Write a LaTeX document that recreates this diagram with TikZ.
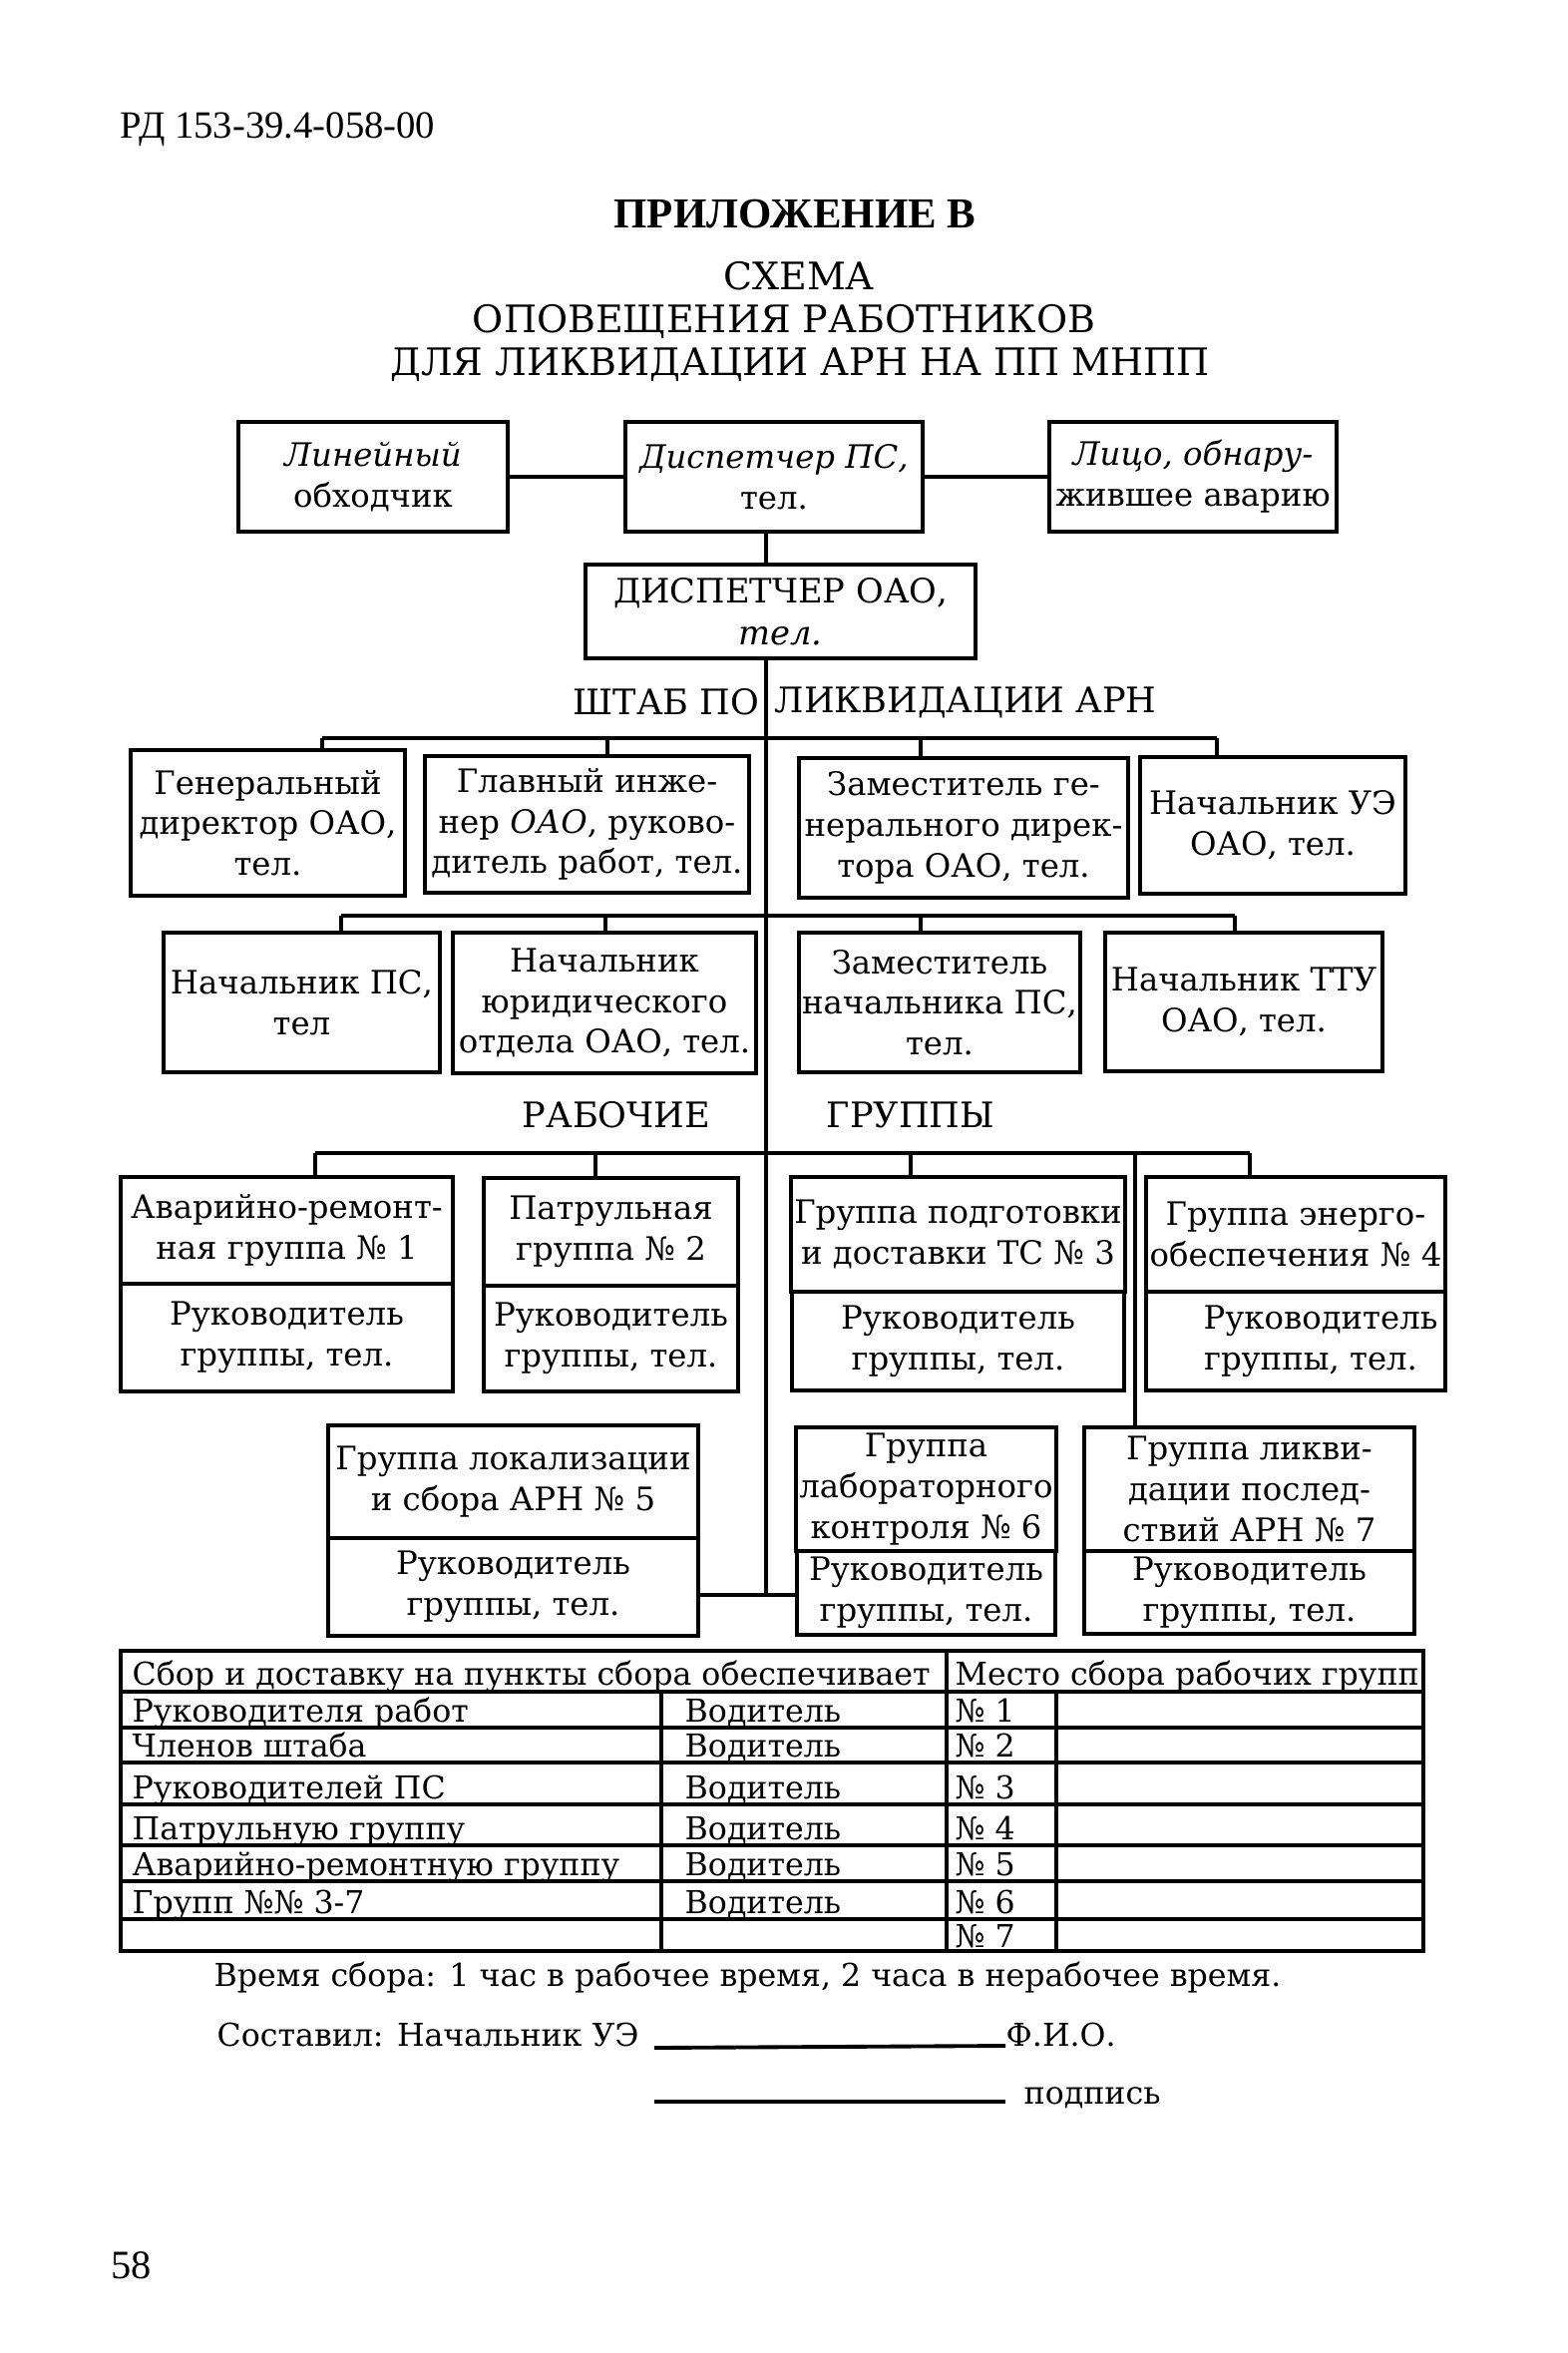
\documentclass[tikz,border=0pt]{standalone}
\usepackage{fontspec}
\setmainfont{DejaVu Serif}
\newfontfamily\hdfont{Liberation Serif}
\newcommand\boxfont{\fontsize{9.2}{11.6}\selectfont}
\tikzset{
  box/.style={draw, line width=1.1pt, align=center, inner sep=1pt, font=\boxfont},
  conn/.style={line width=1pt},
  tabl/.style={line width=1pt},
  cell/.style={anchor=base west, inner sep=0pt, font=\fontsize{9}{11}\selectfont},
  capt/.style={inner sep=0pt, font=\fontsize{10}{12}\selectfont},
  ttl/.style={inner sep=0pt, font=\fontsize{10.8}{13}\selectfont},
}
\begin{document}
\begin{tikzpicture}[x=0.1mm, y=-0.1mm]
\useasboundingbox (0,0) rectangle (1571,2359);
% heading
\node[anchor=west, inner sep=0pt, font=\hdfont\fontsize{11}{12}\selectfont] (code) at (120,130) {РД 153-39.4-058-00};
\node[inner sep=0pt, font=\hdfont\bfseries\fontsize{12.2}{14}\selectfont] (app) at (797,215) {ПРИЛОЖЕНИЕ В};
\node[ttl] (ttl1) at (801,277) {СХЕМА};
\node[ttl] (ttl2) at (786,322) {ОПОВЕЩЕНИЯ РАБОТНИКОВ};
\node[ttl] (ttl3) at (802,366) {ДЛЯ ЛИКВИДАЦИИ АРН НА ПП МНПП};
% first row
\node[box, minimum width=27mm, minimum height=11mm] (lin) at (374,478) {\textit{Линейный}\\обходчик};
\node[box, minimum width=29.8mm, minimum height=11mm] (dps) at (776,478) {\textit{Диспетчер ПС,}\\тел.};
\node[box, minimum width=28.8mm, minimum height=11mm] (lico) at (1196,478) {\textit{Лицо, обнару-}\\жившее аварию};
\node[box, minimum width=39.1mm, minimum height=9.4mm, font=\fontsize{9.6}{12}\selectfont] (oao) at (782.5,613) {ДИСПЕТЧЕР ОАО,\\\textit{тел.}};
\coordinate (spine) at (768,0);
\coordinate (jn) at (768,1599);
\draw[conn] (lin) -- (dps);
\draw[conn] (dps) -- (lico);
\draw[conn] (dps.south -| spine) -- (oao.north -| spine);
\draw[conn] (oao.south -| spine) -- (jn);
% staff
\node[capt, anchor=east] (shtab) at (762,704) {ШТАБ ПО};
\node[capt, anchor=west] (likv) at (776,704) {ЛИКВИДАЦИИ АРН};
\node[box, minimum width=27.5mm, minimum height=14.6mm] (gen) at (268.5,825) {Генеральный\\директор ОАО,\\тел.};
\node[box, minimum width=32.5mm, minimum height=13.7mm] (glav) at (588.5,826.5) {Главный инже-\\нер \textit{ОАО}, руково-\\дитель работ, тел.};
\node[box, minimum width=33mm, minimum height=14mm] (zgd) at (966,830) {Заместитель ге-\\нерального дирек-\\тора ОАО, тел.};
\node[box, minimum width=26.6mm, minimum height=13.7mm] (nue) at (1276,827.5) {Начальник УЭ\\ОАО, тел.};
\coordinate (b1a) at (323,740);
\coordinate (b1b) at (609,740);
\coordinate (b1c) at (923,740);
\coordinate (b1d) at (1220,740);
\draw[conn] (b1a) -- (b1d);
\foreach \n/\c in {gen/b1a, glav/b1b, zgd/b1c, nue/b1d}
  \draw[conn] (\c) -- (\n.north -| \c);
\node[box, minimum width=27.7mm, minimum height=14mm] (nps) at (302.5,1005) {Начальник ПС,\\тел};
\node[box, minimum width=30.4mm, minimum height=14.1mm] (yur) at (606,1005.5) {Начальник\\юридического\\отдела ОАО, тел.};
\node[box, minimum width=28mm, minimum height=14mm] (znps) at (942,1005) {Заместитель\\начальника ПС,\\тел.};
\node[box, minimum width=27.8mm, minimum height=13.9mm] (ttu) at (1247,1004.5) {Начальник ТТУ\\ОАО, тел.};
\coordinate (b2a) at (342,918);
\coordinate (b2b) at (607,918);
\coordinate (b2c) at (923,918);
\coordinate (b2d) at (1238,918);
\draw[conn] (b2a) -- (b2d);
\foreach \n/\c in {nps/b2a, yur/b2b, znps/b2c, ttu/b2d}
  \draw[conn] (\c) -- (\n.north -| \c);
% working groups
\node[capt] (rab) at (618,1118) {РАБОЧИЕ};
\node[capt] (grp) at (913,1118) {ГРУППЫ};
\node[box, minimum width=33.3mm, minimum height=10.7mm] (g1) at (287.5,1233.5) {Аварийно-ремонт-\\ная группа № 1};
\node[box, minimum width=33.3mm, minimum height=10.8mm] (g1r) at (287.5,1341) {Руководитель\\группы, тел.};
\node[box, minimum width=25.5mm, minimum height=10.8mm] (g2) at (612.5,1235) {Патрульная\\группа № 2};
\node[box, minimum width=25.5mm, minimum height=10.6mm] (g2r) at (612.5,1342) {Руководитель\\группы, тел.};
\node[box, minimum width=33.3mm, minimum height=11.5mm] (g3) at (960.5,1237.5) {Группа подготовки\\и доставки ТС № 3};
\node[box, minimum width=33.3mm, minimum height=9.9mm] (g3r) at (960.5,1344.5) {Руководитель\\группы, тел.};
\node[box, minimum width=30mm, minimum height=11.5mm] (g4) at (1299,1237.5) {Группа энерго-\\обеспечения № 4};
\node[box, minimum width=30mm, minimum height=9.9mm] (g4r) at (1299,1344.5) {\hspace*{5mm}Руководитель\\\hspace*{3mm}группы, тел.};
\node[box, minimum width=37.1mm, minimum height=11.3mm] (g5) at (514.5,1485.5) {Группа локализации\\и сбора АРН № 5};
\node[box, minimum width=37.1mm, minimum height=9.8mm] (g5r) at (514.5,1591) {Руководитель\\группы, тел.};
\node[box, minimum width=25.9mm, minimum height=12.4mm] (g6) at (928.5,1493) {Группа\\лабораторного\\контроля № 6};
\node[box, minimum width=25.9mm, minimum height=8.4mm] (g6r) at (928.5,1597) {Руководитель\\группы, тел.};
\node[box, minimum width=33.1mm, minimum height=12.4mm] (g7) at (1252.5,1493) {Группа ликви-\\дации послед-\\ствий АРН № 7};
\node[box, minimum width=33.1mm, minimum height=8.3mm] (g7r) at (1252.5,1596.5) {Руководитель\\группы, тел.};
\coordinate (b3a) at (316,1156);
\coordinate (b3b) at (597,1156);
\coordinate (b3c) at (913,1156);
\coordinate (b3d) at (1253,1156);
\coordinate (b3x) at (1138,1156);
\draw[conn] (b3a) -- (b3d);
\foreach \n/\c in {g1/b3a, g2/b3b, g3/b3c, g4/b3d, g7/b3x}
  \draw[conn] (\c) -- (\n.north -| \c);
\draw[conn] (g5r.east |- jn) -- (g6r.west |- jn);
% table
\draw[tabl] (121,1655) rectangle (1427,1956);
\foreach \y in {1696,1732,1767,1809,1850,1886,1924}
  \draw[tabl] (121,\y) -- (1427,\y);
\draw[tabl] (949,1655) -- (949,1956);
\draw[tabl] (663,1696) -- (663,1956);
\draw[tabl] (1059,1696) -- (1059,1956);
\node[cell] (th1) at (132,1689) {Сбор и доставку на пункты сбора обеспечивает};
\node[cell] (th2) at (957,1689) {Место сбора рабочих групп};
\foreach \t/\y [count=\i] in {Руководителя работ/1726, Членов штаба/1761, Руководителей ПС/1803, Патрульную группу/1844, Аварийно-ремонтную группу/1880, Групп №№ 3-7/1918}{
  \node[cell] (who\i) at (132,\y) {\t};
  \node[cell] (drv\i) at (686,\y) {Водитель};
}
\foreach \y [count=\i] in {1726,1761,1803,1844,1880,1918,1952}
  \node[cell] (pl\i) at (957,\y) {№ \i};
% footer
\node[anchor=west, inner sep=0pt, font=\fontsize{9}{11}\selectfont] (tm) at (214,1982) {Время сбора: 1 час в рабочее время, 2 часа в нерабочее время.};
\node[anchor=base west, inner sep=0pt, font=\fontsize{9}{11}\selectfont] (sost) at (217,2051) {Составил: Начальник УЭ};
\coordinate (fio1) at (656,2053);
\node[anchor=base west, inner sep=0pt, font=\fontsize{9}{11}\selectfont] (fio) at (1008,2051) {Ф.И.О.};
\draw[line width=1.1pt] (fio1) -- (fio.base west);
\coordinate (sig1) at (656,2107);
\node[anchor=base west, inner sep=0pt, font=\fontsize{9}{11}\selectfont] (podp) at (1026,2109) {подпись};
\draw[line width=1.1pt] (sig1) -- (sig1 -| fio.base west);
\node[anchor=west, inner sep=0pt, font=\hdfont\fontsize{11.5}{13}\selectfont] (pnum) at (111,2271) {58};
\end{tikzpicture}
\end{document}
